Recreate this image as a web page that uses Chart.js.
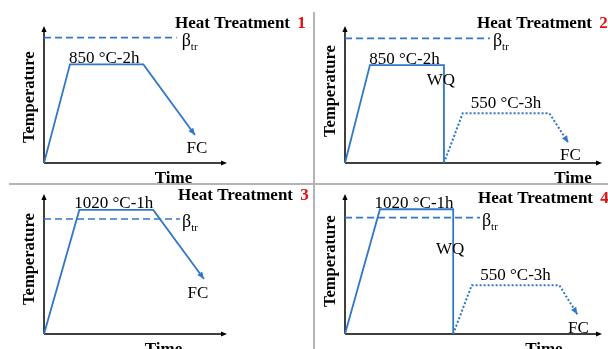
<!DOCTYPE html>
<html><head><meta charset="utf-8">
<script src="https://cdn.jsdelivr.net/npm/chart.js@4.4.1/dist/chart.umd.min.js"></script>
<style>
html,body{margin:0;padding:0;background:#fff;}
#wrap{position:relative;width:608px;height:349px;overflow:hidden;background:#fff}
canvas{position:absolute;left:0;top:0}
.sepV{position:absolute;left:313px;top:12px;width:2px;height:337px;background:#b4b4b4}
.sepH{position:absolute;left:9px;top:183px;width:599px;height:2px;background:#b4b4b4}
</style></head>
<body><div id="wrap">
<div class="sepV"></div><div class="sepH"></div>
<canvas id="c1" width="608" height="349"></canvas>
<canvas id="c2" width="608" height="349"></canvas>
<canvas id="c3" width="608" height="349"></canvas>
<canvas id="c4" width="608" height="349"></canvas>
</div>
<script>
// ---- data (relative time / temperature units, read from the schematic) ----
const panelTitle = "Heat Treatment";
const panelNumbers = ["1", "2", "3", "4"];
const axisTitleX = "Time";
const axisTitleY = "Temperature";
const soakLabels = ["850 °C-2h", "850 °C-2h", "1020 °C-1h", "1020 °C-1h"];
const temperLabel = "550 °C-3h";
const quenchLabel = "WQ";
const coolLabel = "FC";

const ht1Time = [0, 14.2, 54.3, 82.5];
const ht1Temp = [0, 72.0, 72.0, 20.4];
const ht1BetaTime = [0, 72.5];
const ht1BetaTemp = [91.5, 91.5];

const ht2Time = [0, 9.7, 38.5, 38.5];
const ht2Temp = [0, 71.5, 71.5, 0];
const ht2TemperTime = [38.5, 45.8, 79.5, 86.9];
const ht2TemperTemp = [0, 36.3, 36.3, 14.8];
const ht2BetaTime = [0, 56.4];
const ht2BetaTemp = [91.0, 91.0];

const ht3Time = [0, 19.3, 59.7, 87.4];
const ht3Temp = [0, 88.6, 88.6, 39.3];
const ht3BetaTime = [0, 74.3];
const ht3BetaTemp = [82.1, 82.1];

const ht4Time = [0, 13.6, 42.1, 42.1];
const ht4Temp = [0, 89.1, 89.1, 0];
const ht4TemperTime = [42.1, 49.3, 83.4, 90.4];
const ht4TemperTemp = [0, 34.8, 34.8, 14.1];
const ht4BetaTime = [0, 52.5];
const ht4BetaTemp = [83.1, 83.1];

// ---- layout / style ----
const BLUE = "#3077c9";
const SERIF = "'Liberation Serif','Times New Roman',serif";
const panels = [
  {id:"c1", area:{l:44, t:26, r:227, b:163}, main:[ht1Time, ht1Temp], beta:[ht1BetaTime, ht1BetaTemp], temper:null,
   title:{x:175, y:28}, tempFrac:0.48, timeFrac:0.708, fc:[2, 18], betaDx:5, wqDy:0},
  {id:"c2", area:{l:345, t:26, r:602, b:163}, main:[ht2Time, ht2Temp], beta:[ht2BetaTime, ht2BetaTemp], temper:[ht2TemperTime, ht2TemperTemp],
   title:{x:477, y:28}, tempFrac:0.525, timeFrac:0.887, fc:[2, 17], betaDx:3, wqDy:20},
  {id:"c3", area:{l:44, t:194, r:227, b:334}, main:[ht3Time, ht3Temp], beta:[ht3BetaTime, ht3BetaTemp], temper:null,
   title:{x:178, y:200}, tempFrac:0.535, timeFrac:0.653, fc:[-6, 19], betaDx:2, wqDy:0},
  {id:"c4", area:{l:345, t:194, r:602, b:334}, main:[ht4Time, ht4Temp], beta:[ht4BetaTime, ht4BetaTemp], temper:[ht4TemperTime, ht4TemperTemp],
   title:{x:478, y:203}, tempFrac:0.52, timeFrac:0.774, fc:[1, 19], betaDx:2, wqDy:45}
];

function pts(arr){ return arr[0].map((x,i)=>({x:x, y:arr[1][i]})); }

function arrowHead(ctx, x0, y0, x1, y1, len, half, color){
  const a = Math.atan2(y1-y0, x1-x0);
  ctx.save();
  ctx.fillStyle = color;
  ctx.beginPath();
  ctx.moveTo(x1, y1);
  ctx.lineTo(x1 - len*Math.cos(a) + half*Math.sin(a), y1 - len*Math.sin(a) - half*Math.cos(a));
  ctx.lineTo(x1 - len*Math.cos(a) - half*Math.sin(a), y1 - len*Math.sin(a) + half*Math.cos(a));
  ctx.closePath();
  ctx.fill();
  ctx.restore();
}

const decorPlugin = {
  id:"decor",
  beforeDatasetsDraw(chart){
    const ctx = chart.ctx, ca = chart.chartArea;
    ctx.save();
    ctx.strokeStyle = "#000"; ctx.lineWidth = 1.5;
    ctx.beginPath();
    ctx.moveTo(ca.left, ca.bottom); ctx.lineTo(ca.right-4, ca.bottom);
    ctx.moveTo(ca.left, ca.bottom); ctx.lineTo(ca.left, ca.top+4);
    ctx.stroke();
    arrowHead(ctx, ca.left, ca.bottom, ca.right, ca.bottom, 6, 2.6, "#000");
    arrowHead(ctx, ca.left, ca.bottom, ca.left, ca.top, 6, 2.6, "#000");
    ctx.restore();
  },
  afterDatasetsDraw(chart){
    const p = chart.options.plugins.decor.panel;
    const idx = chart.options.plugins.decor.index;
    const ctx = chart.ctx, ca = chart.chartArea;
    const xs = chart.scales.x, ys = chart.scales.y;
    const X = v => xs.getPixelForValue(v), Y = v => ys.getPixelForValue(v);
    ctx.save();
    const m = p.main;
    if (m[1][m[1].length-1] > 0) {
      const n = m[0].length;
      arrowHead(ctx, X(m[0][n-2]), Y(m[1][n-2]), X(m[0][n-1]), Y(m[1][n-1]), 7, 3, BLUE);
    }
    let fcPt = [m[0][m[0].length-1], m[1][m[1].length-1]];
    if (p.temper) {
      const t = p.temper, n = t[0].length;
      arrowHead(ctx, X(t[0][n-2]), Y(t[1][n-2]), X(t[0][n-1]), Y(t[1][n-1]), 7, 3, BLUE);
      fcPt = [t[0][n-1], t[1][n-1]];
    }
    ctx.fillStyle = "#000";
    ctx.textBaseline = "alphabetic";
    ctx.font = "17px " + SERIF;
    ctx.textAlign = "center";
    ctx.fillText(soakLabels[idx], (X(m[0][1]) + X(m[0][2]))/2 - 2.5, Y(m[1][1]) - 1.5);
    if (p.temper) {
      const t = p.temper;
      ctx.fillText(temperLabel, (X(t[0][1]) + X(t[0][2]))/2, Y(t[1][1]) - 5);
      ctx.fillText(quenchLabel, X(m[0][2]) - 3, Y(m[1][2]) + p.wqDy);
    }
    ctx.fillText(coolLabel, X(fcPt[0]) + p.fc[0], Y(fcPt[1]) + p.fc[1]);
    const bx = X(p.beta[0][1]) + p.betaDx, by = Y(p.beta[1][1]) + 8;
    ctx.textAlign = "left";
    ctx.font = "18px " + SERIF;
    ctx.fillText("β", bx, by);
    const bw = ctx.measureText("β").width;
    ctx.font = "11px " + SERIF;
    ctx.fillText("tr", bx + bw, by + 4);
    ctx.font = "bold 17px " + SERIF;
    ctx.textAlign = "center";
    ctx.fillText(axisTitleX, ca.left + p.timeFrac*(ca.right-ca.left), ca.bottom + 20);
    ctx.save();
    ctx.font = "bold 16.5px " + SERIF;
    ctx.translate(ca.left - 14, ca.bottom - p.tempFrac*(ca.bottom-ca.top));
    ctx.rotate(-Math.PI/2);
    ctx.textBaseline = "middle";
    ctx.fillText(axisTitleY, 0, 0);
    ctx.restore();
    ctx.textAlign = "left";
    ctx.font = "bold 17px " + SERIF;
    const head = panelTitle + " ";
    ctx.fillText(head, p.title.x, p.title.y);
    const hw = ctx.measureText(head).width;
    ctx.fillStyle = "#e01010";
    ctx.fillText(panelNumbers[idx], p.title.x + hw + 3, p.title.y);
    ctx.restore();
  }
};

panels.forEach((p, idx) => {
  const a = p.area;
  const datasets = [
    {data: pts(p.beta), borderColor: BLUE, borderWidth: 1.6, borderDash: [7, 4], pointRadius: 0, showLine: true, clip: false},
    {data: pts(p.main), borderColor: BLUE, borderWidth: 1.8, pointRadius: 0, showLine: true, clip: false}
  ];
  if (p.temper) datasets.push({data: pts(p.temper), borderColor: BLUE, borderWidth: 2, borderDash: [2, 2], pointRadius: 0, showLine: true, clip: false});
  new Chart(document.getElementById(p.id), {
    type: "scatter",
    data: {datasets},
    options: {
      responsive: false, animation: false, events: [],
      layout: {padding: {left: a.l, top: a.t, right: 608 - a.r, bottom: 349 - a.b}},
      scales: {
        x: {type: "linear", min: 0, max: 100, display: false},
        y: {type: "linear", min: 0, max: 100, display: false}
      },
      plugins: {legend: {display: false}, tooltip: {enabled: false}, decor: {panel: p, index: idx}}
    },
    plugins: [decorPlugin]
  });
});
</script>
</body></html>
